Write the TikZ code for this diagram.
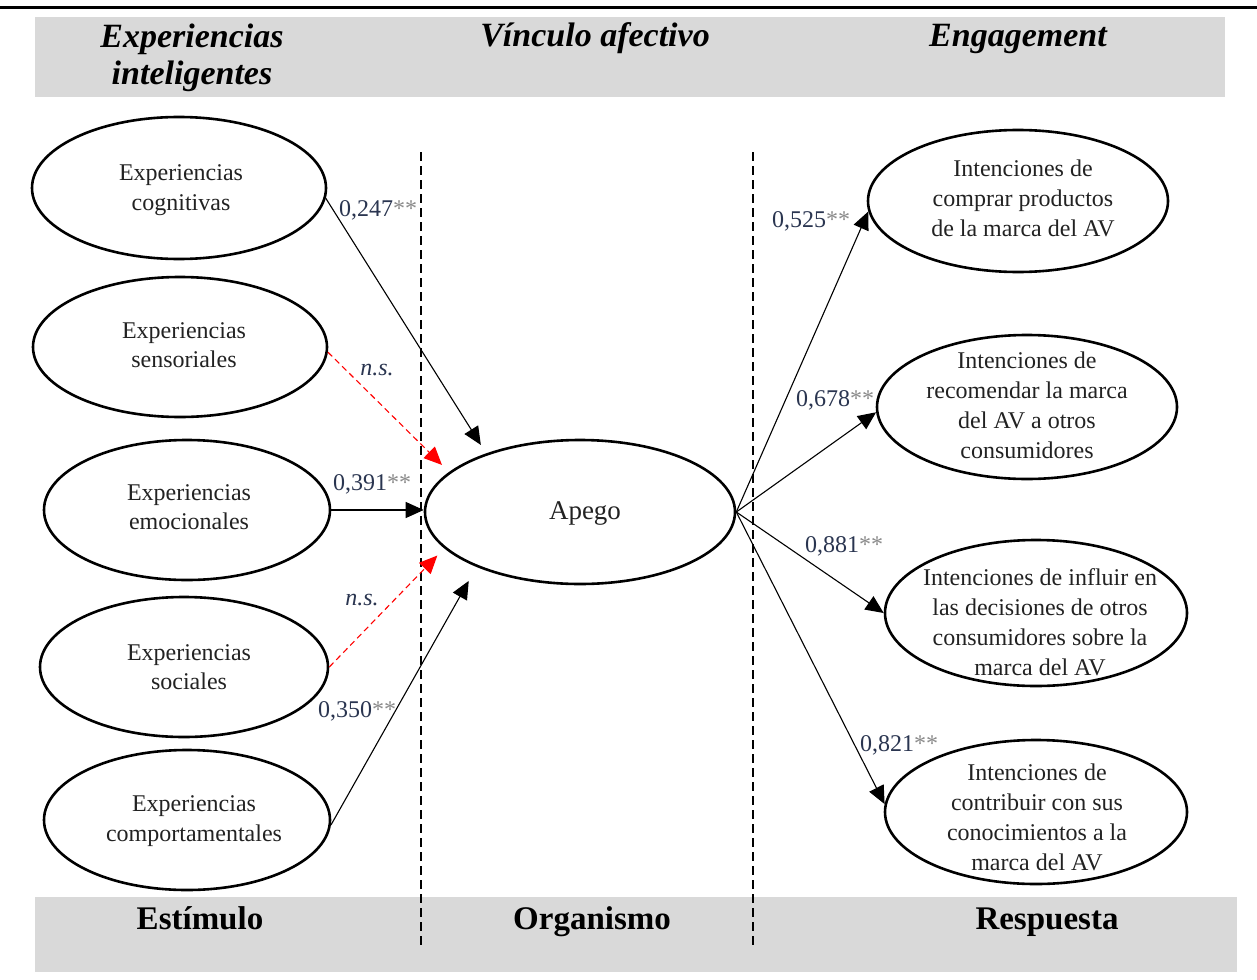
\documentclass[tikz,border=0pt]{standalone}
\usepackage{fontspec}
\setmainfont{Liberation Serif}
\usetikzlibrary{arrows.meta,shapes.geometric}
\definecolor{band}{HTML}{D9D9D9}
\definecolor{numc}{HTML}{2A3550}
\definecolor{astc}{HTML}{8A8A8A}
\definecolor{txtc}{HTML}{222222}
\newcommand{\coefval}[1]{\textcolor{numc}{#1}\textcolor{astc}{**}}
\begin{document}
\begin{tikzpicture}[x=0.5pt,y=-0.5pt,
  oval/.style={ellipse,draw,line width=1.3pt,inner sep=0pt},
  otext/.style={align=center,font=\fontsize{12}{14.8}\selectfont,text=txtc,inner sep=0pt},
  rtext/.style={align=center,font=\fontsize{12}{15}\selectfont,text=txtc,inner sep=0pt},
  arr/.style={-{Triangle[length=9pt,width=8pt]},line width=0.55pt},
  nsarr/.style={arr,red,dash pattern=on 3pt off 2pt},
  coefl/.style={font=\fontsize{12}{14}\selectfont,inner sep=0pt},
  nsl/.style={font=\fontsize{12}{14}\selectfont\itshape,inner sep=0pt,text=numc},
  head/.style={font=\fontsize{17}{18.5}\selectfont\bfseries\itshape,align=center,inner sep=0pt},
  foot/.style={font=\fontsize{16.5}{18}\selectfont\bfseries,inner sep=0pt,anchor=base},
  divider/.style={line width=1.2pt,dash pattern=on 4.5pt off 2.5pt}]
\useasboundingbox (0,0) rectangle (1257,979);
% bands and rule
\draw[line width=1.5pt] (0,8) -- (1257,8);
\fill[band] (35,17) rectangle (1225,97);
\fill[band] (35,897) rectangle (1237,972);
\node[head] (h1) at (192,58) {Experiencias\\inteligentes};
\node[head,anchor=base] (h2) at (595,47) {Vínculo afectivo};
\node[head,anchor=base] (h3) at (1018,47) {Engagement};
\node[foot] (f1) at (200,929) {Estímulo};
\node[foot] (f2) at (592,929) {Organismo};
\node[foot] (f3) at (1047,929) {Respuesta};
% dividers
\draw[divider] (421,152) -- (421,945);
\draw[divider] (753,152) -- (753,945);
% left ellipses
\node[oval,minimum width=147pt,minimum height=71pt] (cog) at (179,188) {};
\node[otext] (cogt) at (181,190) {Experiencias\\cognitivas};
\node[oval,minimum width=147pt,minimum height=70pt] (sen) at (180,347) {};
\node[otext] (sent) at (184,345) {Experiencias\\sensoriales};
\node[oval,minimum width=143pt,minimum height=70pt] (emo) at (187,510) {};
\node[otext] (emot) at (189,507) {Experiencias\\emocionales};
\node[oval,minimum width=144pt,minimum height=70pt] (soc) at (184,667) {};
\node[otext] (soct) at (189,667) {Experiencias\\sociales};
\node[oval,minimum width=143pt,minimum height=70pt] (comp) at (187,820) {};
\node[otext] (compt) at (194,821) {Experiencias\\comportamentales};
% center
\node[oval,minimum width=155pt,minimum height=72pt] (apego) at (580,512) {};
\node[otext,font=\fontsize{13.5}{16}\selectfont] (apegot) at (585,513) {Apego};
% right ellipses
\node[oval,minimum width=150pt,minimum height=71pt] (r1) at (1018,201) {};
\node[rtext] (r1t) at (1023,198) {Intenciones de\\comprar productos\\de la marca del AV};
\node[oval,minimum width=150pt,minimum height=72pt] (r2) at (1027,407) {};
\node[rtext] (r2t) at (1027,405) {Intenciones de\\recomendar la marca\\del AV a otros\\consumidores};
\node[oval,minimum width=151pt,minimum height=73pt] (r3) at (1036,613) {};
\node[rtext] (r3t) at (1040,622) {Intenciones de influir en\\las decisiones de otros\\consumidores sobre la\\marca del AV};
\node[oval,minimum width=151pt,minimum height=72pt] (r4) at (1036,812) {};
\node[rtext] (r4t) at (1037,817) {Intenciones de\\contribuir con sus\\conocimientos a la\\marca del AV};
% arrows into Apego
\draw[arr,shorten >=5pt] (cog.-4) -- (apego.148);
\draw[nsarr,shorten >=5pt] (sen.-2) -- (apego.163);
\draw[arr] (emo.east) -- (emo.east -| apego.west);
\draw[nsarr,shorten >=5pt] (soc.east) -- (apego.195);
\draw[arr,shorten >=8pt] (comp.-2) -- (apego.208);
% arrows out of Apego
\draw[arr] (apego.east) -- (r1.184);
\draw[arr] (apego.east) -- (r2.182);
\draw[arr] (apego.east) -- (r3.west);
\draw[arr] (apego.east) -- (r4.177);
% labels
\node[coefl] (c1) at (378,210) {\coefval{0,247}};
\node[nsl] (n1) at (377,370) {n.s.};
\node[coefl] (c2) at (372,484) {\coefval{0,391}};
\node[nsl] (n2) at (362,600) {n.s.};
\node[coefl] (c3) at (357,711) {\coefval{0,350}};
\node[coefl] (c4) at (811,221) {\coefval{0,525}};
\node[coefl] (c5) at (835,400) {\coefval{0,678}};
\node[coefl] (c6) at (844,546) {\coefval{0,881}};
\node[coefl] (c7) at (899,745) {\coefval{0,821}};
\end{tikzpicture}
\end{document}
